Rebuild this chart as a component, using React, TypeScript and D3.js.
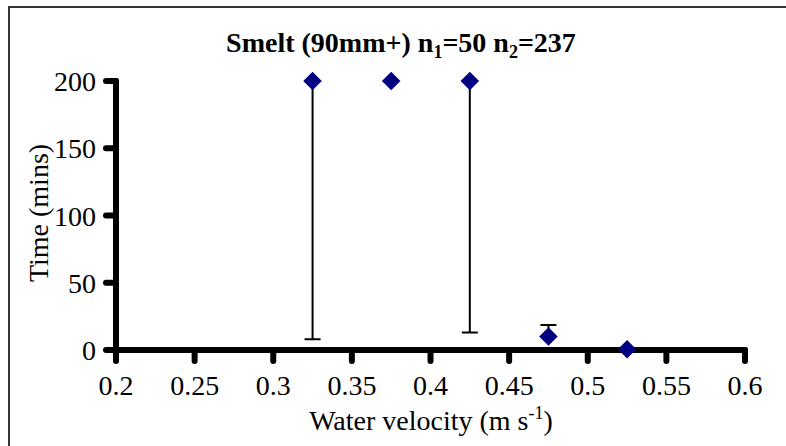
import React from "react";
import * as d3 from "d3";

const velocities = [0.325, 0.375, 0.425, 0.475, 0.525];
const times = [200, 200, 200, 10, 0.5];
const errMinus = [192, 0, 187, 0, 0];
const errPlus = [0, 0, 0, 8.6, 0];
const xTicks = [0.2, 0.25, 0.3, 0.35, 0.4, 0.45, 0.5, 0.55, 0.6];
const yTicks = [0, 50, 100, 150, 200];

const W = 786;
const H = 446;
const FONT = "'Liberation Serif', 'Times New Roman', serif";

export default function App() {
  const x = d3.scaleLinear().domain([0.2, 0.6]).range([116, 745]);
  const y = d3.scaleLinear().domain([0, 200]).range([350, 81]);
  const diamond = d3.symbol().type(d3.symbolDiamond2).size(220)();
  const navy = "#000080";

  return (
    <svg
      width={W}
      height={H}
      style={{ position: "absolute", left: 0, top: 0, background: "#fff" }}
      fontFamily={FONT}
    >
      <rect x={9} y={7} width={900} height={600} fill="none" stroke="#333" strokeWidth={2} />

      <text x={401} y={52} textAnchor="middle" fontSize={28} fontWeight="bold">
        Smelt (90mm+) n
        <tspan fontSize={18} dy={6}>1</tspan>
        <tspan dy={-6}>=50 n</tspan>
        <tspan fontSize={18} dy={6}>2</tspan>
        <tspan dy={-6}>=237</tspan>
      </text>

      {/* error bars */}
      {velocities.map((v, i) => {
        const bars = [];
        if (errMinus[i] > 0) {
          const y2 = y(times[i] - errMinus[i]);
          bars.push(
            <g key={"m" + i} stroke="#000" strokeWidth={2}>
              <line x1={x(v)} x2={x(v)} y1={y(times[i])} y2={y2} />
              <line x1={x(v) - 8} x2={x(v) + 8} y1={y2} y2={y2} />
            </g>
          );
        }
        if (errPlus[i] > 0) {
          const y2 = y(times[i] + errPlus[i]);
          bars.push(
            <g key={"p" + i} stroke="#000" strokeWidth={2}>
              <line x1={x(v)} x2={x(v)} y1={y(times[i])} y2={y2} />
              <line x1={x(v) - 8} x2={x(v) + 8} y1={y2} y2={y2} />
            </g>
          );
        }
        return bars;
      })}

      {/* axes */}
      <g stroke="#000" strokeWidth={6} strokeLinecap="round">
        <line x1={x(0.2)} x2={x(0.2)} y1={y(200)} y2={y(0)} />
        <line x1={x(0.2)} x2={x(0.6)} y1={y(0)} y2={y(0)} />
        {yTicks.map((t) => (
          <line key={"yt" + t} x1={x(0.2) - 10} x2={x(0.2)} y1={y(t)} y2={y(t)} />
        ))}
        {xTicks.map((t) => (
          <line key={"xt" + t} x1={x(t)} x2={x(t)} y1={y(0)} y2={y(0) + 11} />
        ))}
      </g>

      {yTicks.map((t) => (
        <text key={"yl" + t} x={96} y={y(t) + 10} textAnchor="end" fontSize={28}>
          {t}
        </text>
      ))}
      {xTicks.map((t) => (
        <text key={"xl" + t} x={x(t)} y={395} textAnchor="middle" fontSize={28}>
          {String(t)}
        </text>
      ))}

      {/* points */}
      {velocities.map((v, i) => (
        <path key={"pt" + i} d={diamond || ""} transform={`translate(${x(v)},${y(times[i])})`} fill={navy} />
      ))}

      <text x={431} y={430} textAnchor="middle" fontSize={28}>
        Water velocity (m s
        <tspan fontSize={18} dy={-11}>-1</tspan>
        <tspan dy={11}>)</tspan>
      </text>
      <text
        transform={`translate(48,213) rotate(-90)`}
        textAnchor="middle"
        fontSize={28}
      >
        Time (mins)
      </text>
    </svg>
  );
}
